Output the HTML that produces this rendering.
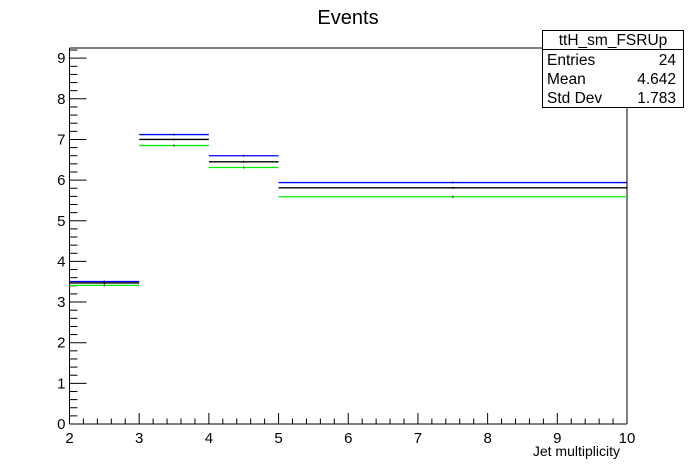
<!DOCTYPE html>
<html><head><meta charset="utf-8"><style>
body{margin:0;background:#fff}
svg{display:block;font-family:"Liberation Sans",Arial,sans-serif}
</style></head><body>
<svg id="c" width="696" height="472" viewBox="0 0 696 472">
<rect width="696" height="472" fill="#fff"/>
<text x="348" y="24" font-size="20" text-anchor="middle">Events</text>
<g id="frame"></g>
<g id="axes"></g>
<g id="marks"></g>
<text x="620" y="456" font-size="14" text-anchor="end">Jet multiplicity</text>
<g>
<rect x="542.5" y="30.5" width="141" height="77" fill="#fff" stroke="#000"/>
<line x1="542.5" y1="49.5" x2="683.5" y2="49.5" stroke="#000"/>
<text x="613" y="45" font-size="15.5" text-anchor="middle">ttH_sm_FSRUp</text>
<text x="547" y="65" font-size="15.5">Entries</text>
<text x="676" y="65" font-size="15.5" text-anchor="end">24</text>
<text x="547" y="84" font-size="15.5">Mean</text>
<text x="676" y="84" font-size="15.5" text-anchor="end">4.642</text>
<text x="547" y="103" font-size="15.5">Std Dev</text>
<text x="676" y="103" font-size="15.5" text-anchor="end">1.783</text>
</g>
</svg>
<script>
const binEdges=[2,3,4,5,10];
const blueVals=[3.505,7.12,6.6,5.94];
const blackVals=[3.47,7.0,6.45,5.81];
const greenVals=[3.41,6.85,6.31,5.59];
const xTicks=[2,3,4,5,6,7,8,9,10];
const yTicks=[0,1,2,3,4,5,6,7,8,9];

const X0=69.5,X1=627,Y0=424,YT=48;
const xMin=2,xMax=10,yMin=0,yMax=9.25;
const sx=v=>X0+(v-xMin)/(xMax-xMin)*(X1-X0);
const sy=v=>Y0-(v-yMin)/(yMax-yMin)*(Y0-YT);
const NS="http://www.w3.org/2000/svg";
function mk(parent,tag,attrs){const e=document.createElementNS(NS,tag);for(const k in attrs)e.setAttribute(k,attrs[k]);parent.appendChild(e);return e;}
const frame=document.getElementById('frame'),axes=document.getElementById('axes'),marks=document.getElementById('marks');
let fr=mk(frame,'polyline',{points:`${X0},${YT} 542.5,${YT}`,fill:'none',stroke:'#000'});


let fr2=mk(frame,'line',{x1:X1,y1:107.5,x2:X1,y2:Y0,stroke:'#000'});


let xa=mk(axes,'line',{x1:X0,y1:Y0,x2:X1,y2:Y0,stroke:'#000'});


let ya=mk(axes,'line',{x1:X0,y1:Y0,x2:X0,y2:YT,stroke:'#000'});


for(let i=0;i<xTicks.length;i++){
  const v=xTicks[i],x=sx(v);
  const t=mk(axes,'line',{x1:x,y1:Y0,x2:x,y2:Y0-11,stroke:'#000'});
  
  
  const l=mk(axes,'text',{x:x,y:Y0+19,'font-size':15,'text-anchor':'middle'});
  l.textContent=v;
  
  
  if(i<xTicks.length-1)for(let k=1;k<5;k++){const xm=sx(v+k*0.2);
    const m=mk(axes,'line',{x1:xm,y1:Y0,x2:xm,y2:Y0-5.5,stroke:'#000'});
    
    }
}
for(let i=0;i<yTicks.length;i++){
  const v=yTicks[i],y=sy(v);
  const t=mk(axes,'line',{x1:X0,y1:y,x2:X0+17,y2:y,stroke:'#000'});
  
  
  const l=mk(axes,'text',{x:X0-4,y:y+5,'font-size':15,'text-anchor':'end'});
  l.textContent=v;
  
  
  for(let k=1;k<5;k++){const vm=v+k*0.2;if(vm>yMax)break;const ym=sy(vm);
    const m=mk(axes,'line',{x1:X0,y1:ym,x2:X0+8,y2:ym,stroke:'#000'});
    
    }
}
const series=[[blueVals,'#0000ff','blue'],[blackVals,'#000','nominal'],[greenVals,'#00ee00','green']];
series.forEach(([vals,col,nm])=>{
  for(let i=0;i<vals.length;i++){
    const y=sy(vals[i]);
    const b=mk(marks,'line',{x1:sx(binEdges[i]),y1:y,x2:sx(binEdges[i+1]),y2:y,stroke:col,'stroke-width':1.3});
    
    
    const c=(sx(binEdges[i])+sx(binEdges[i+1]))/2;
    const e=mk(marks,'line',{x1:c,y1:y-1,x2:c,y2:y+1,stroke:'#000'});
    
    
  }
});
</script>
</body></html>
